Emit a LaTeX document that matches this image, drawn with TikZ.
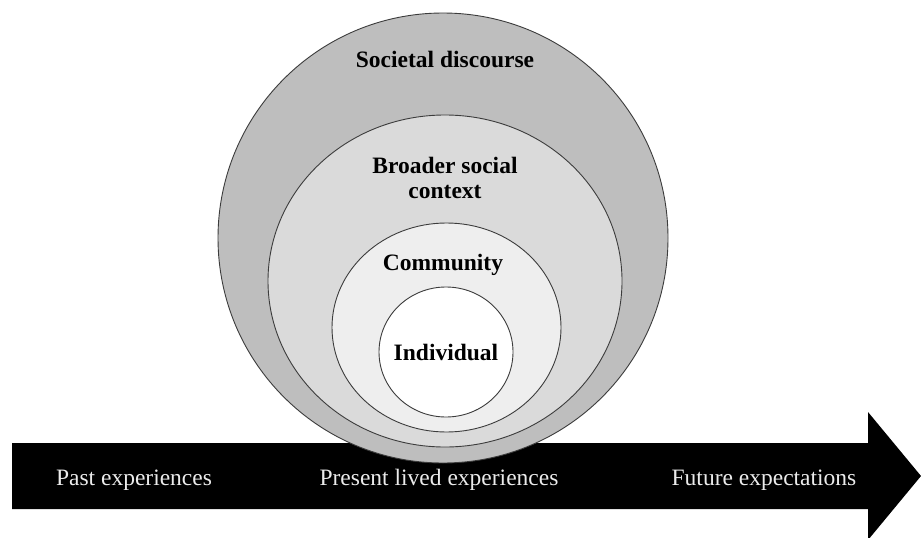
\documentclass[tikz,border=0pt]{standalone}
\usepackage{fontspec}
\setmainfont{Liberation Serif}
\usetikzlibrary{shapes.geometric}
\definecolor{ringA}{RGB}{190,190,190}
\definecolor{ringB}{RGB}{218,218,218}
\definecolor{ringC}{RGB}{238,238,238}
\definecolor{ringline}{RGB}{60,60,60}
\definecolor{arrowtext}{RGB}{235,235,235}
\tikzset{
  ring/.style={ellipse, draw=ringline, line width=0.9pt, inner sep=0pt},
  ringlabel/.style={font=\fontsize{23.5}{25}\selectfont\bfseries, text=black, inner sep=0pt, anchor=base, align=center},
  timelabel/.style={font=\fontsize{23.5}{25}\selectfont, text=arrowtext, inner sep=0pt, anchor=base}
}
\begin{document}
\begin{tikzpicture}[x=1pt,y=-1pt]
\useasboundingbox (0,0) rectangle (921,538);
\fill[white] (0,0) rectangle (921,538);
% timeline arrow
\fill[black] (12,443) -- (868,443) -- (868,412) -- (921,476) -- (868,540) -- (868,509) -- (12,509) -- cycle;
\node[timelabel] (past) at (134,485) {Past experiences};
\node[timelabel] (present) at (439,485) {Present lived experiences};
\node[timelabel] (future) at (764,485) {Future expectations};
% nested circles
\node[ring, fill=ringA, minimum width=450pt, minimum height=450pt] (societal) at (443,238) {};
\node[ring, fill=ringB, minimum width=354pt, minimum height=332pt] (broader) at (445,281) {};
\node[ring, fill=ringC, minimum width=229pt, minimum height=209pt] (community) at (446.5,327.5) {};
\node[ring, fill=white, minimum width=134pt, minimum height=130pt] (individual) at (446,352) {};
\node[ringlabel] (lsoc) at (445,67) {Societal discourse};
\node[ringlabel] (lbro) at (445,198) {Broader social\\context};
\node[ringlabel] (lcom) at (443,270) {Community};
\node[ringlabel] (lind) at (446,360) {Individual};
\end{tikzpicture}
\end{document}
